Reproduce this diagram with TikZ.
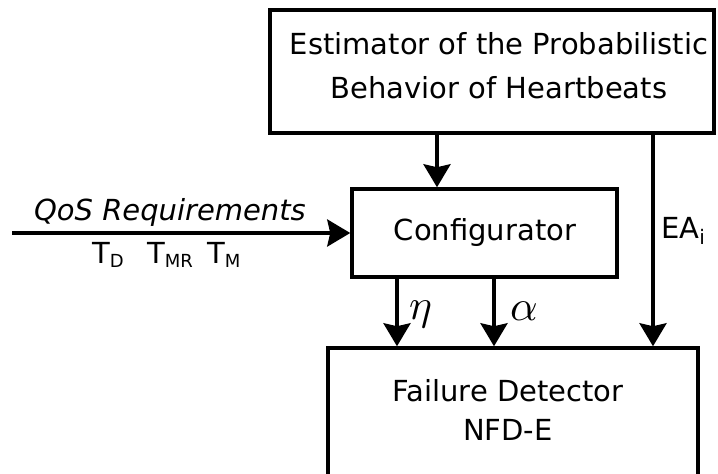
\documentclass[tikz,border=0pt]{standalone}
\usepackage{fontspec}
\setmainfont{DejaVu Sans}
\usetikzlibrary{arrows.meta,calc}
\tikzset{
  box/.style={draw, line width=3.5pt, inner sep=0pt},
  txt/.style={inner sep=0pt, font=\fontsize{29}{34}\selectfont},
  arr/.style={line width=3.5pt, -{Stealth[width=27pt,length=23pt,inset=3pt]}},
  greek/.style={inner sep=0pt},
}
\begin{document}
\begin{tikzpicture}[x=1pt,y=-1pt]
\useasboundingbox (0,0) rectangle (718,474);
% boxes
\node[box, minimum width=444pt, minimum height=123pt] (est) at (492,71.5) {};
\node[box, minimum width=265pt, minimum height=88pt] (cfg) at (484.5,233) {};
\node[box, minimum width=370pt, minimum height=130pt] (fd) at (513,413) {};
% texts
\node[txt] (estA) at (499,44) {Estimator of the Probabilistic};
\node[txt] (estB) at (499,88) {Behavior of Heartbeats};
\node[txt] (cfgT) at (485,232) {Configurator};
\node[txt] (fdA) at (508,391) {Failure Detector};
\node[txt] (fdB) at (508,430) {NFD-E};
\node[txt, font=\fontsize{29}{34}\selectfont\itshape] (qos) at (170,212) {QoS Requirements};
\node[txt, anchor=base west] (td) at (92,263) {T\textsubscript{\fontsize{18}{18}\selectfont D}};
\node[txt, anchor=base west] (tmr) at (147,263) {T\textsubscript{\fontsize{18}{18}\selectfont MR}};
\node[txt, anchor=base west] (tm) at (207,263) {T\textsubscript{\fontsize{18}{18}\selectfont M}};
\node[txt, anchor=base west] (ea) at (661,238) {EA\textsubscript{\fontsize{20}{20}\selectfont i}};
\node[greek, anchor=base west] (eta) at (409,319) {\scalebox{4.3}{$\eta$}};
\node[greek, anchor=base west] (alpha) at (510,320) {\scalebox{4.3}{$\alpha$}};
% connector x positions
\coordinate (x1) at (437,0);
\coordinate (x2) at (397,0);
\coordinate (x3) at (494,0);
\coordinate (x4) at (653,0);
\coordinate (qstart) at (12,233);
% connectors
\draw[arr] (est.south -| x1) -- (cfg.north -| x1);
\draw[arr] (cfg.south -| x2) -- (fd.north -| x2);
\draw[arr] (cfg.south -| x3) -- (fd.north -| x3);
\draw[arr] (est.south -| x4) -- (fd.north -| x4);
\draw[arr] (qstart) -- (cfg.west);
\end{tikzpicture}
\end{document}
